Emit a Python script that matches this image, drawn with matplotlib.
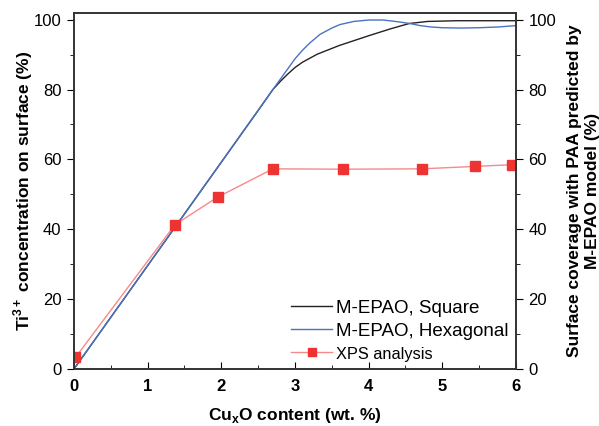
import matplotlib.pyplot as plt
from matplotlib.ticker import MultipleLocator

plt.rcParams['font.family'] = ['Liberation Sans', 'DejaVu Sans']
plt.rcParams['mathtext.fontset'] = 'custom'
plt.rcParams['mathtext.rm'] = 'Liberation Sans'
plt.rcParams['mathtext.bf'] = 'Liberation Sans:bold'

# M-EPAO model, square arrangement
sq_x = [0, 1, 2, 2.5, 2.7, 2.8, 2.9, 3.0, 3.1, 3.3, 3.6, 4.0, 4.3, 4.55, 4.8, 5.2, 5.6, 6.0]
sq_y = [0, 29.6, 59.2, 74, 80, 82.3, 84.4, 86.3, 87.8, 90.1, 92.6, 95.4, 97.4, 98.9, 99.5, 99.7, 99.7, 99.7]

# M-EPAO model, hexagonal arrangement
hex_x = [0, 1, 2, 2.7, 3.0, 3.1, 3.2, 3.34, 3.5, 3.61, 3.8, 4.0, 4.2, 4.4, 4.56, 4.7,
         4.85, 5.0, 5.25, 5.5, 5.75, 6.0]
hex_y = [0, 29.6, 59.2, 80, 88.8, 91.2, 93.3, 95.8, 97.6, 98.6, 99.5, 99.9, 99.9, 99.4,
         98.9, 98.3, 97.9, 97.7, 97.6, 97.7, 97.9, 98.3]

# XPS analysis
xps_x = [0.02, 1.37, 1.95, 2.7, 3.65, 4.72, 5.45, 5.95]
xps_y = [3.3, 41.3, 49.2, 57.3, 57.2, 57.3, 58.0, 58.5]

fig = plt.figure(figsize=(5.99, 4.26), dpi=100)
ax = fig.add_axes([0.1235, 0.1338, 0.7379, 0.8364])

ax.plot(sq_x, sq_y, color='#222222', lw=1.0, label='M-EPAO, Square')
ax.plot(hex_x, hex_y, color='#4a72c4', lw=1.0, label='M-EPAO, Hexagonal')
ax.plot(xps_x, xps_y, color='#f58a8a', lw=1.0, marker='s', markersize=6.5,
        markerfacecolor='#ee3333', markeredgecolor='#ee3333', label='XPS analysis')

ax.set_xlim(0, 6)
ax.set_ylim(0, 102)
ax.xaxis.set_major_locator(MultipleLocator(1))
ax.xaxis.set_minor_locator(MultipleLocator(0.5))
ax.yaxis.set_major_locator(MultipleLocator(20))
ax.yaxis.set_minor_locator(MultipleLocator(10))
ax.tick_params(axis='x', which='both', direction='in', labelsize=12, pad=7)
ax.tick_params(axis='x', which='major', length=5)
ax.tick_params(axis='x', which='minor', length=3)
ax.tick_params(axis='y', which='major', direction='out', length=5, labelsize=12, pad=4)
ax.tick_params(axis='y', which='minor', direction='out', length=3)
for lab in ax.get_xticklabels():
    lab.set_fontweight('bold')

ax2 = ax.twinx()
ax2.set_ylim(0, 102)
ax2.yaxis.set_major_locator(MultipleLocator(20))
ax2.yaxis.set_minor_locator(MultipleLocator(10))
ax2.tick_params(axis='y', which='major', direction='out', length=5, labelsize=12, pad=4)
ax2.tick_params(axis='y', which='minor', direction='out', length=3)

for a in (ax, ax2):
    for s in a.spines.values():
        s.set_linewidth(1.2)
        s.set_color('#333333')

ax.set_xlabel('Cu$_\\mathbf{x}$O content (wt. %)', fontsize=12.5, fontweight='bold', labelpad=9)
ax.set_ylabel('Ti$^{\\mathbf{3+}}$ concentration on surface (%)', fontsize=12.5,
              fontweight='bold')
ax.yaxis.set_label_coords(-0.088, 0.5)
ax2.set_ylabel('Surface coverage with PAA predicted by\nM-EPAO model (%)', fontsize=12.5,
               fontweight='bold', rotation=90, labelpad=8, linespacing=1.2)

leg = ax.legend(loc='lower right', frameon=False, fontsize=13.5, handlelength=2.2,
                handletextpad=0.2, labelspacing=0.3, borderaxespad=0.0,
                markerscale=0.8, bbox_to_anchor=(1.0, 0.0))
leg.get_texts()[2].set_fontsize(11.8)

fig.savefig('out.png', dpi=100)
